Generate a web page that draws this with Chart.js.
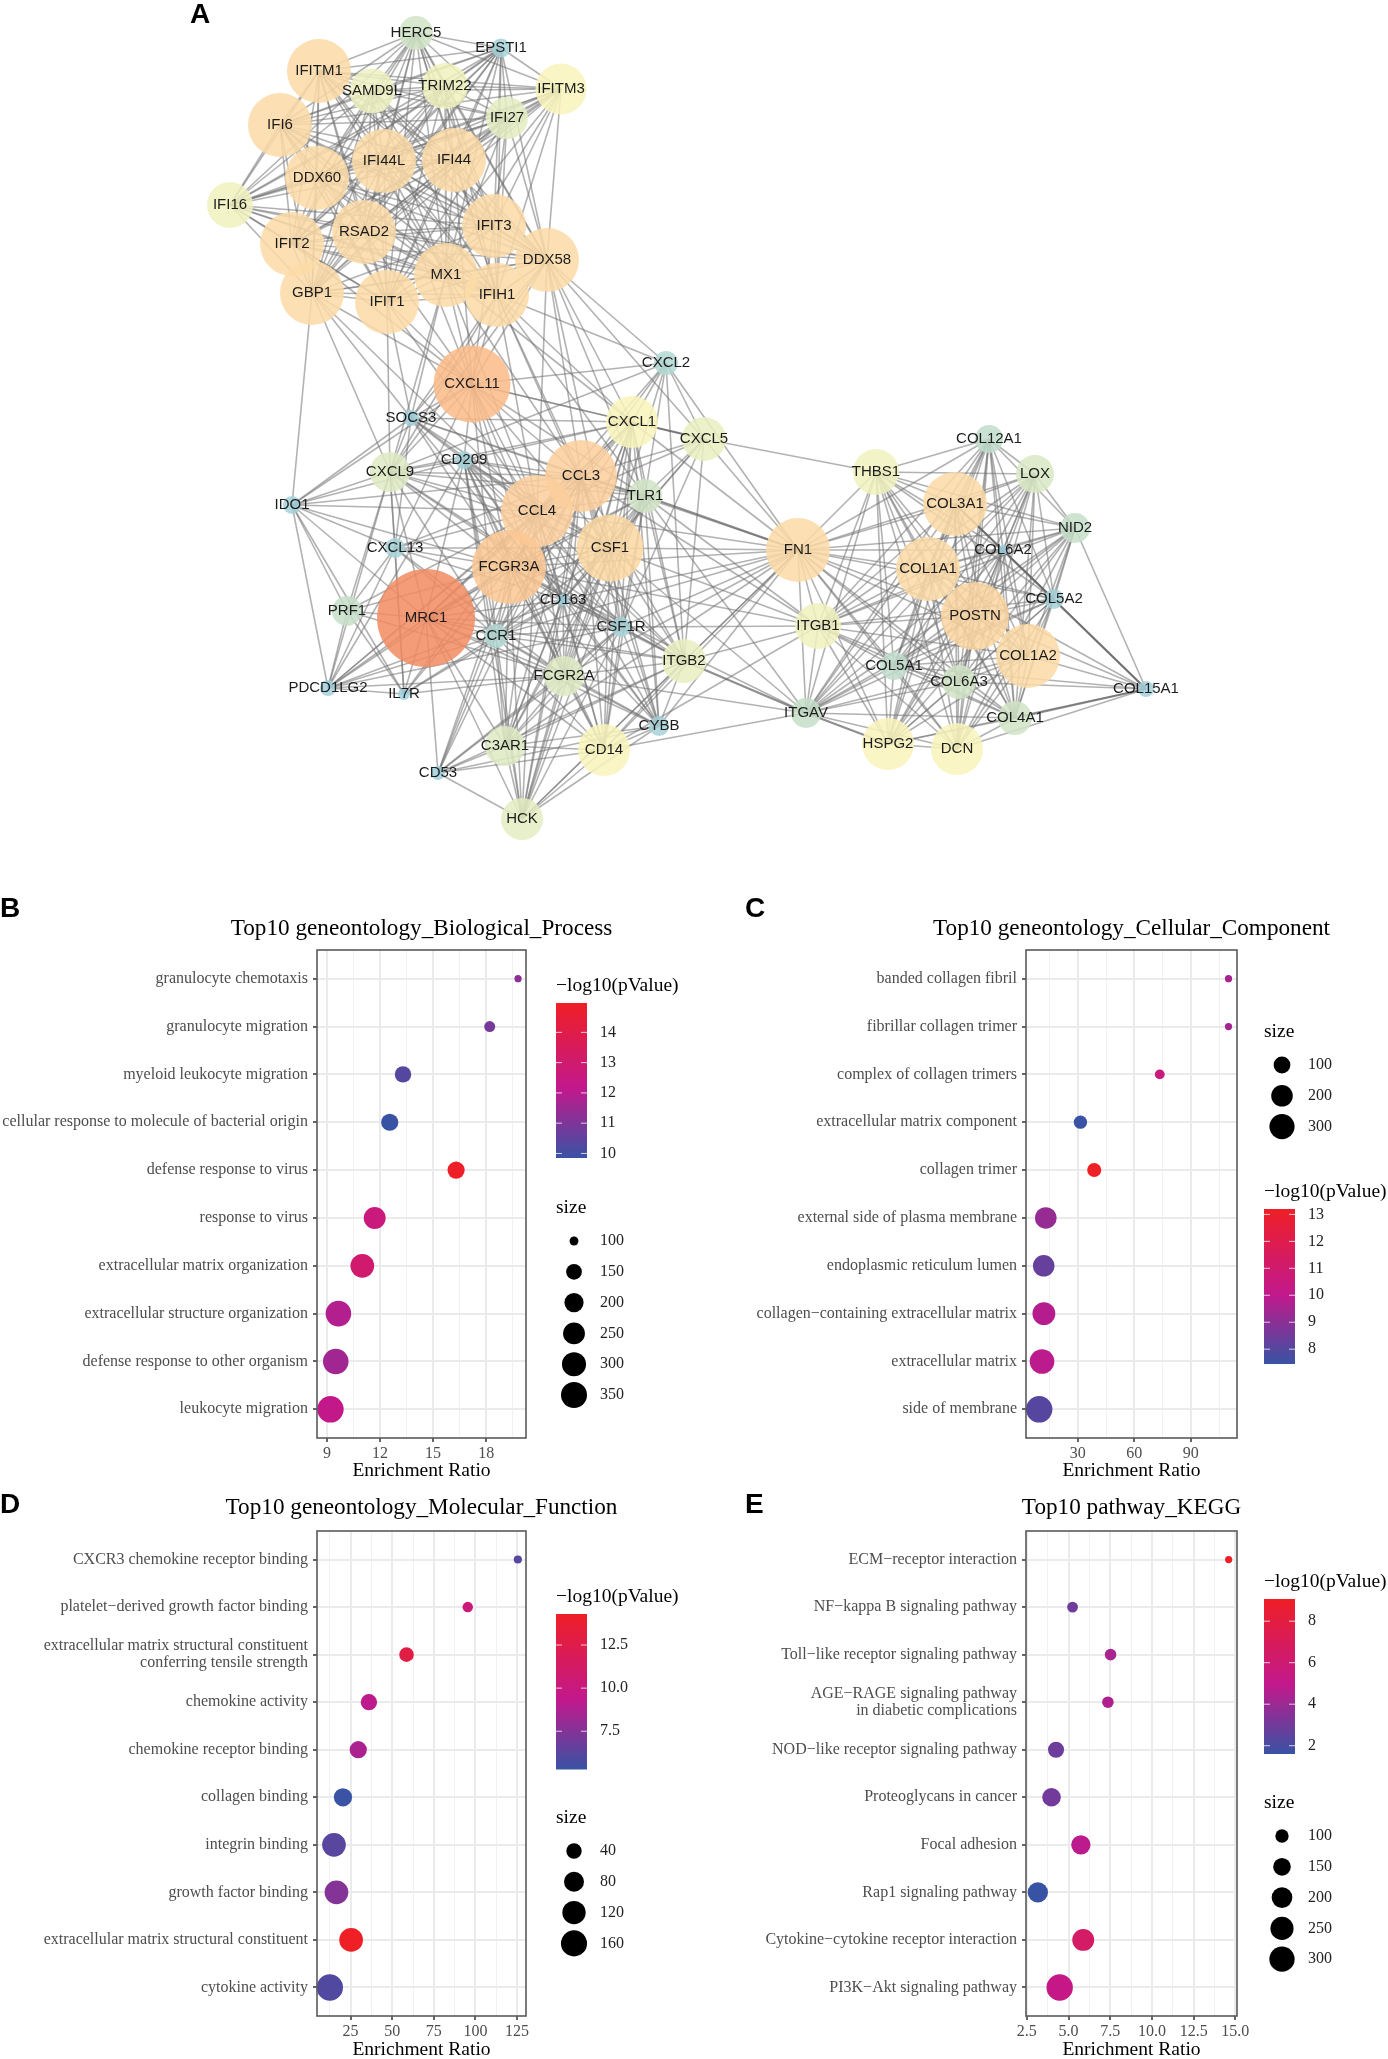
<!DOCTYPE html>
<html>
<head>
<meta charset="utf-8">
<title>Hub genes and enrichment</title>
<script src="https://cdn.jsdelivr.net/npm/chart.js@4"></script>
<style>
html, body { margin: 0; padding: 0; background: #fff; width: 1388px; height: 2059px; overflow: hidden; }
canvas { position: absolute; display: block; }
.tag { position: absolute; font: bold 28px "Liberation Sans", sans-serif; color: #000; line-height: 1; }
</style>
</head>
<body>
<canvas id="net" width="1388" height="880" style="left:0;top:0"></canvas>
<canvas id="bp" width="700" height="600" style="left:0;top:885px"></canvas>
<canvas id="cc" width="688" height="600" style="left:700px;top:885px"></canvas>
<canvas id="mf" width="700" height="592" style="left:0;top:1470px"></canvas>
<canvas id="kegg" width="688" height="592" style="left:700px;top:1470px"></canvas>
<div class="tag" style="left:190px;top:0">A</div>
<div class="tag" style="left:0;top:894px">B</div>
<div class="tag" style="left:745px;top:894px">C</div>
<div class="tag" style="left:0;top:1490px">D</div>
<div class="tag" style="left:745px;top:1490px">E</div>
<script>
// network nodes
const nodeNames = ['HERC5','EPSTI1','IFITM1','SAMD9L','TRIM22','IFITM3','IFI27','IFI6','IFI44L','IFI44','DDX60','IFI16','IFIT3','RSAD2','IFIT2','DDX58','MX1','GBP1','IFIT1','IFIH1',
  'CXCL11','CXCL2','SOCS3','CXCL1','CXCL5','CD209','CCL3','CXCL9','TLR1','IDO1','CCL4','CSF1','CXCL13','FCGR3A','MRC1','PRF1','CD163','CSF1R','CCR1','ITGB2','FCGR2A','PDCD1LG2','IL7R','CYBB','C3AR1','CD14','CD53','HCK',
  'COL12A1','THBS1','LOX','COL3A1','NID2','FN1','COL6A2','COL1A1','COL5A2','POSTN','ITGB1','COL1A2','COL5A1','COL6A3','COL15A1','COL4A1','ITGAV','HSPG2','DCN'];
const nodeX = [416,501,319,372,445,561,507,280,384,454,317,230,494,364,292,547,446,312,387,497,
  472,666,411,632,704,464,581,390,645,292,537,610,395,509,426,347,563,621,496,684,564,328,404,659,505,604,438,522,
  989,876,1035,955,1075,798,1003,928,1054,975,818,1028,894,959,1146,1015,806,888,957];
const nodeY = [33,48,71,91,86,89,118,125,161,160,178,205,226,232,244,260,275,293,302,295,
  384,363,418,422,439,460,476,472,496,505,511,548,548,567,618,611,600,627,636,661,676,688,694,726,746,750,773,819,
  439,472,474,504,528,550,550,569,599,616,626,656,666,682,689,718,713,744,749];
const nodeDegree = [17,9.5,32,22.5,23,25.5,21,32,32,32,32,23,32,32,32,32,32,32,32,32,
  38.5,12,8,26,22,9,36,20,17,9,36,33.5,10,37,49,15,6,10,12,22,20,8,6,10,20,26,7,21,
  14,23,19,32,15,32,5,32,10,34,23,32,14,17,8,17,15,26,26];

// every pair inside a group is linked
const edgeGroups = [
  ['HERC5','EPSTI1','IFITM1','SAMD9L','TRIM22','IFITM3','IFI27','IFI6','IFI44L','IFI44','DDX60','IFI16','IFIT3','RSAD2','IFIT2','DDX58','MX1','GBP1','IFIT1','IFIH1'],
  ['CCL3','CCL4','CSF1','FCGR3A','CD163','CSF1R','CCR1','ITGB2','FCGR2A','CD14','CYBB','C3AR1','TLR1','CXCL1','MRC1','CD209','HCK'],
  ['COL12A1','THBS1','LOX','COL3A1','NID2','FN1','COL6A2','COL1A1','COL5A2','POSTN','ITGB1','COL1A2','COL5A1','COL6A3','COL4A1','ITGAV','HSPG2','DCN']
];
// hub followed by its other neighbours
const edgeFans = [
  ['CXCL11','IFIH1','DDX58','IFIT1','IFIT3','MX1','GBP1','RSAD2','IFI44','IFI44L','IFIT2','CCL3','CCL4','CXCL1','CXCL2','CXCL5','CXCL9','CXCL13','SOCS3','FCGR3A','CCR1','TLR1','IDO1','CSF1','CD209','CD163','FCGR2A'],
  ['SOCS3','IFIT1','GBP1','IFIH1','MX1','DDX58','CXCL9','CXCL13','CD209','CCL3','CCL4','CXCL1','IDO1','CSF1','FCGR3A','TLR1','CD163'],
  ['DDX58','CXCL1','CXCL2','CXCL5','TLR1','CCL3','CCL4','CSF1','CXCL9'],
  ['IFIH1','CCL4','CCL3','CXCL1','TLR1','CXCL9','CSF1','CXCL2'],
  ['MX1','CXCL9','CCL4','CCL3','CXCL1'],
  ['IFIT1','CXCL9','CCL4'],
  ['GBP1','IDO1','CXCL9','CCL4'],
  ['CXCL2','CXCL1','CXCL5','TLR1','CCL3','CCL4','FN1','CXCL9','CSF1','ITGB2'],
  ['IDO1','CXCL9','PRF1','MRC1','PDCD1LG2','CXCL13','CCL4','CCL3','FCGR3A','CD209','IL7R'],
  ['CXCL9','CXCL13','PRF1','PDCD1LG2','IL7R','CCL3','CCL4','FCGR3A','CSF1','CD209','MRC1','TLR1','CCR1','CXCL1','CSF1R','ITGB2'],
  ['CXCL13','PRF1','PDCD1LG2','IL7R','CCL3','CCL4','FCGR3A','CCR1','CD163','CSF1','FCGR2A'],
  ['PRF1','PDCD1LG2','MRC1','FCGR3A','CCL4','IL7R','FCGR2A'],
  ['PDCD1LG2','MRC1','CCL4','FCGR3A','CCR1','CSF1R','FCGR2A','IL7R','CD209','CD163','CCL3'],
  ['IL7R','CCR1','CCL4','FCGR3A','FCGR2A','CD163','MRC1'],
  ['CD53','CCR1','FCGR3A','C3AR1','HCK','CD14','FCGR2A','CYBB','CCL4','CCL3','CSF1R','ITGB2','MRC1'],
  ['CXCL5','CXCL1','TLR1','CCL3','CCL4','CSF1','ITGB2','FN1','THBS1','CD163','CSF1R'],
  ['FN1','CXCL1','TLR1','CSF1','CCL3','CCL4','FCGR3A','CD163','CSF1R','ITGB2','CD14','FCGR2A','C3AR1','CCR1','HCK','CYBB'],
  ['ITGB1','TLR1','CSF1','CSF1R','ITGB2','CD14','CCL3','FCGR3A'],
  ['ITGAV','ITGB2','TLR1','CD14','CSF1','FCGR2A','FCGR3A'],
  ['COL15A1','COL3A1','COL6A2','NID2','COL1A2','COL5A1','COL4A1','HSPG2','DCN','COL5A2','COL1A1','POSTN','COL6A3']
];
const heavyEdges = [['COL15A1','COL3A1'],['ITGAV','ITGB2'],['TLR1','FN1'],['CXCL1','CXCL5'],['ITGAV','HSPG2'],['COL15A1','COL4A1']];

// panel B
const bpTerms = ['granulocyte chemotaxis','granulocyte migration','myeloid leukocyte migration','cellular response to molecule of bacterial origin','defense response to virus','response to virus','extracellular matrix organization','extracellular structure organization','defense response to other organism','leukocyte migration'];
const bpRatio = [19.8,18.2,13.3,12.55,16.3,11.7,11.0,9.65,9.5,9.2];
const bpLogP = [11.3,10.9,10.3,9.85,14.9,12.6,13.0,11.9,11.6,12.2];
const bpSize = [98,108,158,169,169,252,292,338,338,360];
const bpTicks = [9,12,15,18];
const bpTickLabels = ['9','12','15','18'];
const bpMinorTicks = [10.5,13.5,16.5,19.5];
const bpPTicks = [10,11,12,13,14];
const bpSizeKeys = [100,150,200,250,300,350];

// panel C
const ccTerms = ['banded collagen fibril','fibrillar collagen trimer','complex of collagen trimers','extracellular matrix component','collagen trimer','external side of plasma membrane','endoplasmic reticulum lumen','collagen\u2212containing extracellular matrix','extracellular matrix','side of membrane'];
const ccRatio = [110,110,73.5,31.4,38.7,13,11.9,12,11,9.5];
const ccLogP = [9.5,9.5,10.5,7.5,13.2,9.2,8.3,9.8,9.9,8.0];
const ccSize = [20,20,26,52,61,199,199,233,284,340];
const ccTicks = [30,60,90];
const ccTickLabels = ['30','60','90'];
const ccMinorTicks = [15,45,75,105];
const ccPTicks = [8,9,10,11,12,13];
const ccSizeKeys = [100,200,300];

// panel D
const mfTerms = ['CXCR3 chemokine receptor binding','platelet\u2212derived growth factor binding',['extracellular matrix structural constituent','conferring tensile strength'],'chemokine activity','chemokine receptor binding','collagen binding','integrin binding','growth factor binding','extracellular matrix structural constituent','cytokine activity'];
const mfRatio = [125.5,95.4,58.6,36,29.6,20.4,15,16.5,25.3,12.5];
const mfLogP = [6.2,10.2,12.9,9.2,8.7,5.3,6.2,7.5,14.3,6.0];
const mfSize = [13,17,35,47,54,63,125,125,125,165];
const mfTicks = [25,50,75,100,125];
const mfTickLabels = ['25','50','75','100','125'];
const mfMinorTicks = [12.5,37.5,62.5,87.5,112.5];
const mfPTicks = [7.5,10,12.5];
const mfPTickLabels = ['7.5','10.0','12.5'];
const mfSizeKeys = [40,80,120,160];

// panel E
const keggTerms = ['ECM\u2212receptor interaction','NF\u2212kappa B signaling pathway','Toll\u2212like receptor signaling pathway',['AGE\u2212RAGE signaling pathway','in diabetic complications'],'NOD\u2212like receptor signaling pathway','Proteoglycans in cancer','Focal adhesion','Rap1 signaling pathway','Cytokine\u2212cytokine receptor interaction','PI3K\u2212Akt signaling pathway'];
const keggRatio = [14.6,5.24,7.52,7.36,4.25,3.98,5.74,3.16,5.88,4.47];
const keggLogP = [9.07,2.9,4.3,4.5,2.9,3.0,4.8,1.6,6.5,5.2];
const keggSize = [74,83,87,87,128,164,176,194,224,330];
const keggTicks = [2.5,5,7.5,10,12.5,15];
const keggTickLabels = ['2.5','5.0','7.5','10.0','12.5','15.0'];
const keggMinorTicks = [3.75,6.25,8.75,11.25,13.75];
const keggPTicks = [2,4,6,8];
const keggSizeKeys = [100,150,200,250,300];

const serif = '"Liberation Serif", "Times New Roman", serif';
const sans = '"Liberation Sans", Arial, sans-serif';

function hexRgb(h) {
    return [1, 3, 5].map(i => parseInt(h.slice(i, i + 2), 16));
}

// low - mid - high ramp used by the dots and the colour bars
function ramp(t) {
    const low = hexRgb('#3953a4'), mid = hexRgb('#c2188c'), high = hexRgb('#ef1f26');
    t = Math.max(0, Math.min(1, t));
    const a = t < 0.45 ? low : mid;
    const b = t < 0.45 ? mid : high;
    const f = t < 0.45 ? t / 0.45 : (t - 0.45) / 0.55;
    return `rgb(${a.map((c, i) => Math.round(c + (b[i] - c) * f)).join(',')})`;
}

function sizeRadius(s, range) {
    return 3.6 + 9.6 * Math.sqrt((s - range[0]) / (range[1] - range[0]));
}

function nodeColor(d) {
    const stops = [[5,'#a0cfe0'],[10,'#a6d3d9'],[15,'#c6e0ca'],[20,'#deeac3'],[23,'#f0f2bf'],[26,'#f9f3ba'],[32,'#fcdba6'],[36,'#fbcf9c'],[38.5,'#fbbb88'],[49,'#f28a62']];
    let i = 0;
    while (i < stops.length - 2 && d > stops[i + 1][0]) i++;
    const f = Math.max(0, Math.min(1, (d - stops[i][0]) / (stops[i + 1][0] - stops[i][0])));
    const a = hexRgb(stops[i][1]), b = hexRgb(stops[i + 1][1]);
    return `rgba(${a.map((c, k) => Math.round(c + (b[k] - c) * f)).join(',')},0.86)`;
}

function buildEdges() {
    const seen = new Set();
    const out = [];
    const add = (a, b) => {
        const key = [a, b].sort().join('|');
        if (a === b || seen.has(key)) return;
        seen.add(key);
        out.push([a, b]);
    };
    heavyEdges.forEach(e => add(e[0], e[1]));
    edgeGroups.forEach(g => g.forEach((a, i) => g.slice(i + 1).forEach(b => add(a, b))));
    edgeFans.forEach(f => f.slice(1).forEach(b => add(f[0], b)));
    return out;
}

const nodeLabels = {
    id: 'nodeLabels',
    afterDatasetsDraw(chart) {
        const {ctx, scales} = chart;
        ctx.save();
        ctx.font = '15px ' + sans;
        ctx.fillStyle = '#1c1c1c';
        ctx.textAlign = 'center';
        ctx.textBaseline = 'middle';
        nodeNames.forEach((n, i) => {
            ctx.fillText(n, scales.x.getPixelForValue(nodeX[i]), scales.y.getPixelForValue(nodeY[i]));
        });
        ctx.restore();
    }
};

function drawNetwork() {
    const edgeSets = buildEdges().map(e => {
        const a = nodeNames.indexOf(e[0]), b = nodeNames.indexOf(e[1]);
        const heavy = heavyEdges.some(h => h[0] === e[0] && h[1] === e[1]);
        return {
            type: 'scatter',
            showLine: true,
            order: 2,
            data: [{x: nodeX[a], y: nodeY[a]}, {x: nodeX[b], y: nodeY[b]}],
            pointRadius: 0,
            borderColor: heavy ? 'rgba(95,95,95,0.7)' : 'rgba(115,115,115,0.55)',
            borderWidth: heavy ? 2.2 : 1.6
        };
    });
    new Chart(document.getElementById('net'), {
        type: 'bubble',
        data: {
            datasets: [...edgeSets, {
                type: 'bubble',
                order: 1,
                clip: false,
                data: nodeNames.map((n, i) => ({x: nodeX[i], y: nodeY[i], r: nodeDegree[i]})),
                backgroundColor: nodeDegree.map(nodeColor),
                borderWidth: 0
            }]
        },
        options: {
            responsive: false,
            animation: false,
            devicePixelRatio: 1,
            events: [],
            layout: {padding: 0, autoPadding: false},
            plugins: {legend: {display: false}, tooltip: {enabled: false}},
            scales: {
                x: {type: 'linear', display: false, min: 0, max: 1388},
                y: {type: 'linear', display: false, min: 0, max: 880, reverse: true}
            }
        },
        plugins: [nodeLabels]
    });
}

// title, frame round the plot, colour bar and size key
const panelExtras = {
    id: 'panelExtras',
    afterDraw(chart, args, o) {
        const {ctx, chartArea: a} = chart;
        ctx.save();
        ctx.strokeStyle = '#5a5a5a';
        ctx.lineWidth = 1.6;
        ctx.strokeRect(a.left, a.top, a.right - a.left, a.bottom - a.top);

        ctx.font = '23.2px ' + serif;
        ctx.fillStyle = '#000';
        ctx.textAlign = 'center';
        ctx.textBaseline = 'middle';
        ctx.fillText(o.title, (a.left + a.right) / 2, o.titleY);
        ctx.textAlign = 'left';

        const bar = o.bar;
        ctx.font = '19.5px ' + serif;
        ctx.fillText('\u2212log10(pValue)', o.keyX, bar.top - 17);

        const g = ctx.createLinearGradient(0, bar.top + bar.height, 0, bar.top);
        for (let i = 0; i <= 20; i++) g.addColorStop(i / 20, ramp(i / 20));
        ctx.fillStyle = g;
        ctx.fillRect(o.keyX, bar.top, 31, bar.height);

        ctx.font = '16px ' + serif;
        o.pTicks.forEach((v, i) => {
            const y = bar.top + bar.height * (o.pRange[1] - v) / (o.pRange[1] - o.pRange[0]);
            ctx.strokeStyle = 'rgba(255,255,255,0.75)';
            ctx.lineWidth = 1;
            ctx.beginPath();
            ctx.moveTo(o.keyX, y); ctx.lineTo(o.keyX + 6, y);
            ctx.moveTo(o.keyX + 25, y); ctx.lineTo(o.keyX + 31, y);
            ctx.stroke();
            ctx.fillStyle = '#222';
            ctx.fillText(o.pLabels ? o.pLabels[i] : String(v), o.keyX + 44, y);
        });

        ctx.font = '19.5px ' + serif;
        ctx.fillStyle = '#000';
        ctx.fillText('size', o.keyX, o.sizeTop - 33);
        ctx.font = '16px ' + serif;
        o.sizeKeys.forEach((s, i) => {
            const y = o.sizeTop + i * 30.8;
            ctx.fillStyle = '#000';
            ctx.beginPath();
            ctx.arc(o.keyX + 18, y, sizeRadius(s, o.sizeRange), 0, Math.PI * 2);
            ctx.fill();
            ctx.fillStyle = '#222';
            ctx.fillText(String(s), o.keyX + 44, y);
        });
        ctx.restore();
    }
};

function drawPanel(id, p) {
    const xTickValues = [...p.ticks, ...p.minor].sort((a, b) => a - b);
    new Chart(document.getElementById(id), {
        type: 'bubble',
        data: {
            datasets: [{
                clip: false,
                data: p.terms.map((t, i) => ({x: p.ratio[i], y: i, r: sizeRadius(p.size[i], p.sizeRange)})),
                backgroundColor: p.logP.map(v => ramp((v - p.pRange[0]) / (p.pRange[1] - p.pRange[0]))),
                borderWidth: 0
            }]
        },
        options: {
            responsive: false,
            animation: false,
            devicePixelRatio: 1,
            events: [],
            layout: {padding: {right: p.padRight, top: p.plotTop}, autoPadding: false},
            plugins: {
                legend: {display: false},
                tooltip: {enabled: false},
                panelExtras: {
                    title: p.title,
                    titleY: p.titleY,
                    keyX: p.keyX,
                    bar: p.bar,
                    pTicks: p.pTicks,
                    pLabels: p.pLabels,
                    pRange: p.pRange,
                    sizeKeys: p.sizeKeys,
                    sizeRange: p.sizeRange,
                    sizeTop: p.sizeTop
                }
            },
            scales: {
                x: {
                    type: 'linear',
                    min: p.xRange[0],
                    max: p.xRange[1],
                    afterBuildTicks: s => { s.ticks = xTickValues.map(v => ({value: v})); },
                    afterFit: s => { s.height = p.axisHeight; },
                    border: {display: false},
                    grid: {
                        color: c => c.tick && p.ticks.includes(c.tick.value) ? '#ebebeb' : '#f1f1f1',
                        lineWidth: c => c.tick && p.ticks.includes(c.tick.value) ? 2 : 1,
                        tickColor: c => c.tick && p.ticks.includes(c.tick.value) ? '#333' : 'rgba(0,0,0,0)',
                        tickLength: 4,
                        tickWidth: 1.5
                    },
                    ticks: {
                        autoSkip: false,
                        maxRotation: 0,
                        minRotation: 0,
                        padding: 2,
                        color: '#4d4d4d',
                        font: {family: serif, size: 16},
                        callback: v => {
                            const i = p.ticks.indexOf(v);
                            return i < 0 ? '' : p.tickLabels[i];
                        }
                    },
                    title: {
                        display: true,
                        text: 'Enrichment Ratio',
                        color: '#000',
                        padding: {top: 0, bottom: p.axisTitlePad},
                        font: {family: serif, size: 19.5, lineHeight: 1.2}
                    }
                },
                y: {
                    type: 'linear',
                    min: -0.6,
                    max: 9.6,
                    reverse: true,
                    afterBuildTicks: s => { s.ticks = p.terms.map((t, i) => ({value: i})); },
                    afterFit: s => { s.width = p.axisWidth; },
                    border: {display: false},
                    grid: {
                        color: '#ebebeb',
                        lineWidth: 2,
                        tickColor: '#333',
                        tickLength: 4,
                        tickWidth: 1.5
                    },
                    ticks: {
                        autoSkip: false,
                        padding: 5,
                        color: '#4d4d4d',
                        font: {family: serif, size: 16, lineHeight: 1.06},
                        callback: v => p.terms[v]
                    }
                }
            }
        },
        plugins: [panelExtras]
    });
}

drawNetwork();

drawPanel('bp', {
    title: 'Top10 geneontology_Biological_Process',
    terms: bpTerms, ratio: bpRatio, logP: bpLogP, size: bpSize,
    ticks: bpTicks, tickLabels: bpTickLabels, minor: bpMinorTicks, xRange: [8.44, 20.25],
    pTicks: bpPTicks, pRange: [9.85, 14.97], sizeKeys: bpSizeKeys, sizeRange: [98, 360],
    axisWidth: 317, padRight: 174, axisHeight: 47, axisTitlePad: 2, plotTop: 65, titleY: 44,
    keyX: 556, bar: {top: 118, height: 155}, sizeTop: 356
});
drawPanel('cc', {
    title: 'Top10 geneontology_Cellular_Component',
    terms: ccTerms, ratio: ccRatio, logP: ccLogP, size: ccSize,
    ticks: ccTicks, tickLabels: ccTickLabels, minor: ccMinorTicks, xRange: [2.5, 114.5],
    pTicks: ccPTicks, pRange: [7.45, 13.2], sizeKeys: ccSizeKeys, sizeRange: [20, 340],
    axisWidth: 326, padRight: 151, axisHeight: 47, axisTitlePad: 2, plotTop: 65, titleY: 44,
    keyX: 564, bar: {top: 324, height: 155}, sizeTop: 180
});
drawPanel('mf', {
    title: 'Top10 geneontology_Molecular_Function',
    terms: mfTerms, ratio: mfRatio, logP: mfLogP, size: mfSize,
    ticks: mfTicks, tickLabels: mfTickLabels, minor: mfMinorTicks, xRange: [4.8, 130.4],
    pTicks: mfPTicks, pLabels: mfPTickLabels, pRange: [5.28, 14.3], sizeKeys: mfSizeKeys, sizeRange: [12.6, 165],
    axisWidth: 317, padRight: 174, axisHeight: 46, axisTitlePad: 0, plotTop: 61, titleY: 38,
    keyX: 556, bar: {top: 144, height: 155.5}, sizeTop: 381
});
drawPanel('kegg', {
    title: 'Top10 pathway_KEGG',
    terms: keggTerms, ratio: keggRatio, logP: keggLogP, size: keggSize,
    ticks: keggTicks, tickLabels: keggTickLabels, minor: keggMinorTicks, xRange: [2.45, 15.1],
    pTicks: keggPTicks, pRange: [1.6, 9.07], sizeKeys: keggSizeKeys, sizeRange: [74, 330],
    axisWidth: 326, padRight: 151, axisHeight: 46, axisTitlePad: 0, plotTop: 61, titleY: 38,
    keyX: 564, bar: {top: 129, height: 155}, sizeTop: 366
});
</script>
</body>
</html>
